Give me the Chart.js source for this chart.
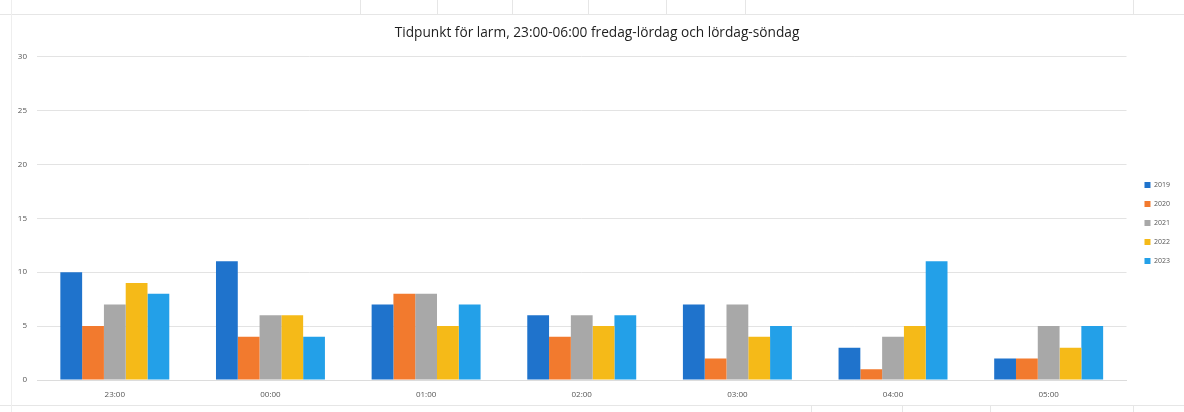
<!DOCTYPE html>
<html>
<head>
<meta charset="utf-8">
<script src="https://cdn.jsdelivr.net/npm/chart.js@4.4.1/dist/chart.umd.min.js"></script>
<style>
  html, body { margin: 0; padding: 0; background: #ffffff; }
  #wrap { position: relative; width: 1184px; height: 412px; overflow: hidden; }
  .hl { position: absolute; left: 0; width: 1184px; height: 1px; background: #e6e6e6; }
  .vl { position: absolute; width: 1px; background: #e6e6e6; }
  canvas { position: absolute; left: 0; top: 0; }
</style>
</head>
<body>
<div id="wrap">
  <div class="hl" style="top:14px"></div>
  <div class="hl" style="top:405px"></div>
  <div class="vl" style="left:11px;top:0;height:412px;background:#eeeeee"></div>
  <div class="vl" style="left:360px;top:0;height:14px"></div>
  <div class="vl" style="left:437px;top:0;height:14px"></div>
  <div class="vl" style="left:512px;top:0;height:14px"></div>
  <div class="vl" style="left:588px;top:0;height:14px"></div>
  <div class="vl" style="left:666px;top:0;height:14px"></div>
  <div class="vl" style="left:745px;top:0;height:14px"></div>
  <div class="vl" style="left:811px;top:405px;height:7px"></div>
  <div class="vl" style="left:902px;top:405px;height:7px"></div>
  <div class="vl" style="left:990px;top:405px;height:7px"></div>
  <div class="vl" style="left:1133px;top:405px;height:7px"></div>
  <div class="vl" style="left:1133px;top:0;height:14px"></div>
  <canvas id="c" width="1184" height="412"></canvas>
</div>
<script>
const categories = ["23:00", "00:00", "01:00", "02:00", "03:00", "04:00", "05:00"];
const seriesNames = ["2019", "2020", "2021", "2022", "2023"];
const s2019 = [10, 11, 7, 6, 7, 3, 2];
const s2020 = [5, 4, 8, 4, 2, 1, 2];
const s2021 = [7, 6, 8, 6, 7, 4, 5];
const s2022 = [9, 6, 5, 5, 4, 5, 3];
const s2023 = [8, 4, 7, 6, 5, 11, 5];
const yTicks = [0, 5, 10, 15, 20, 25, 30];
const titleText = "Tidpunkt för larm, 23:00-06:00 fredag-lördag och lördag-söndag";

const colors = ["#1f73cc", "#f27a2e", "#a8a8a8", "#f5ba18", "#23a0e8"];
const allSeries = [s2019, s2020, s2021, s2022, s2023];

const datasets = allSeries.map((d, i) => ({
  label: seriesNames[i],
  data: d,
  backgroundColor: colors[i],
  borderWidth: 0,
  categoryPercentage: 0.70,
  barPercentage: 1.0
}));

const boxShift = {
  id: "boxShift",
  afterLayout(chart) {
    const lg = chart.legend;
    if (lg) {
      lg.left += 6; lg.right += 6;
      lg.top += 22; lg.bottom += 22;
    }
    const tb = chart.titleBlock;
    if (tb) {
      tb.left += 4; tb.right += 4;
    }
  }
};

new Chart(document.getElementById("c"), {
  type: "bar",
  data: { labels: categories, datasets: datasets },
  plugins: [boxShift],
  options: {
    responsive: false,
    animation: false,
    devicePixelRatio: 1,
    layout: { padding: { left: 12, right: 10, top: 0, bottom: 10 } },
    plugins: {
      title: {
        display: true,
        text: titleText,
        color: "#1e1e1e",
        font: { family: "Open Sans", size: 13.7, weight: "normal" },
        padding: { top: 25, bottom: 15 }
      },
      legend: {
        display: true,
        position: "right",
        labels: {
          boxWidth: 6,
          boxHeight: 6,
          padding: 12,
          color: "#555555",
          font: { family: "Open Sans", size: 7 }
        }
      },
      tooltip: { enabled: false }
    },
    scales: {
      x: {
        grid: { display: false },
        border: { display: true, color: "#dcdcdc" },
        ticks: { color: "#555555", font: { family: "Open Sans", size: 8 }, padding: 2 },
        afterFit: (s) => { s.height = 22; }
      },
      y: {
        min: 0,
        max: 30,
        afterBuildTicks: (s) => { s.ticks = yTicks.map(v => ({ value: v })); },
        grid: { color: "#e3e3e3", drawTicks: false },
        border: { display: false },
        ticks: { color: "#555555", font: { family: "Open Sans", size: 8 }, padding: 10 },
        afterFit: (s) => { s.width = 25; }
      }
    }
  }
});
</script>
</body>
</html>
